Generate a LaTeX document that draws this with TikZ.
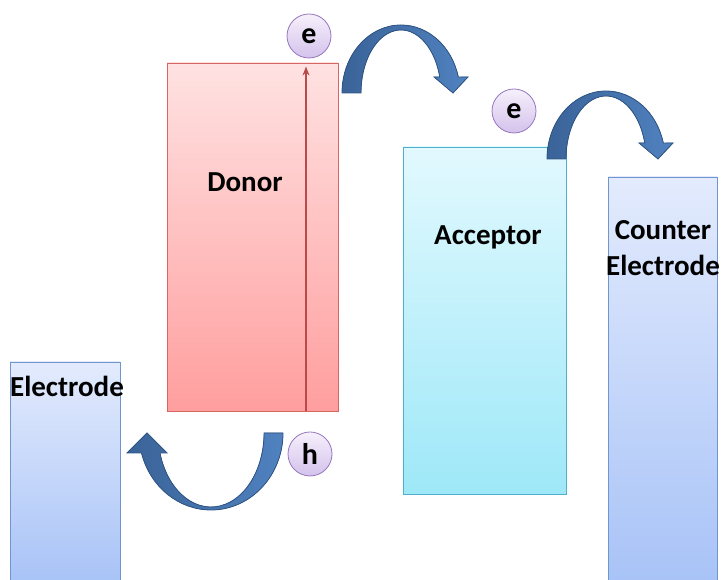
\documentclass[tikz,border=0pt]{standalone}
\usepackage{fontspec}
\setmainfont{Carlito}
\usetikzlibrary{arrows.meta,positioning}
\definecolor{electrodeline}{RGB}{112,150,205}
\definecolor{electrodetop}{RGB}{227,235,253}
\definecolor{electrodebot}{RGB}{168,195,247}
\definecolor{donorline}{RGB}{214,102,100}
\definecolor{donortop}{RGB}{255,226,226}
\definecolor{donorbot}{RGB}{255,158,158}
\definecolor{acceptorline}{RGB}{80,175,205}
\definecolor{acceptortop}{RGB}{226,249,254}
\definecolor{acceptorbot}{RGB}{158,232,248}
\definecolor{carrierline}{RGB}{150,118,190}
\definecolor{carriertop}{RGB}{246,240,251}
\definecolor{carrierbot}{RGB}{212,194,236}
\definecolor{bentdark}{RGB}{58,99,152}
\definecolor{bentlight}{RGB}{80,130,192}
\definecolor{bentline}{RGB}{46,84,132}
\definecolor{gapred}{RGB}{184,74,74}
\tikzset{
    energybox/.style n args={3}{draw=#1, top color=#2, bottom color=#3,
                                line width=0.8pt, inner sep=0pt},
    carrier/.style={circle, draw=carrierline, line width=0.8pt,
                    top color=carriertop, bottom color=carrierbot,
                    minimum size=44pt, inner sep=0pt,
                    font=\bfseries\fontsize{30}{30}\selectfont},
    levelname/.style={font=\bfseries\fontsize{29}{36}\selectfont, align=center},
    bent/.style={draw=bentline, line width=0.8pt,
                 left color=bentdark, right color=bentlight},
}

\begin{document}
\begin{tikzpicture}[
    x=1pt, y=1pt,
    gap/.style={-{Stealth[length=9pt,width=7pt]}, line width=1.2pt, gapred}
]
    \clip (0,0) rectangle (723,580);

    \node[energybox={electrodeline}{electrodetop}{electrodebot},
          minimum width=110pt, minimum height=220pt] (electrode) at (65,108) {};
    \node[energybox={donorline}{donortop}{donorbot},
          minimum width=171pt, minimum height=348pt] (donor) at (252.5,343) {};
    \node[energybox={acceptorline}{acceptortop}{acceptorbot},
          minimum width=163pt, minimum height=347pt] (acceptor) at (484.5,259.5) {};
    \node[energybox={electrodeline}{electrodetop}{electrodebot},
          minimum width=109pt, minimum height=405pt] (counter) at (662.5,200.5) {};

    \node[levelname] (donorname) at (245,398) {Donor};
    \node[levelname] (acceptorname) at (488,343) {Acceptor};
    \node[levelname] (countername) at (663,332) {Counter\\Electrode};
    \node[levelname] (electrodename) at (67,194) {Electrode};

    % excitation inside the donor
    \draw[gap] ([xshift=53.5pt]donor.south) -- ([xshift=53.5pt,yshift=-4pt]donor.north);

    \node[carrier] (e1) at (309,544) {e};
    \node[carrier] (e2) at (514,469) {e};
    \node[carrier] (h) at (310,126) {h};

    % transfer arrows
    \filldraw[bent, shift={(401,487)}]
        (-59,0) arc[start angle=180, end angle=13.6, x radius=59, y radius=68]
        -- (67,16) -- (52,0) -- (33,16) -- (38.7,16)
        arc[start angle=14.7, end angle=180, x radius=40, y radius=63] -- cycle;
    \filldraw[bent, shift={(606,421)}]
        (-59,0) arc[start angle=180, end angle=13.6, x radius=59, y radius=68]
        -- (67,16) -- (52,0) -- (33,16) -- (38.7,16)
        arc[start angle=14.7, end angle=180, x radius=40, y radius=63] -- cycle;
    \filldraw[bent, shift={(211,147)}, rotate=180]
        (-72,0) arc[start angle=180, end angle=15.06, x radius=72, y radius=77]
        -- (84,20) -- (64,0) -- (44,20) -- (51,20)
        arc[start angle=15.68, end angle=180, x radius=53, y radius=74] -- cycle;
\end{tikzpicture}
\end{document}
